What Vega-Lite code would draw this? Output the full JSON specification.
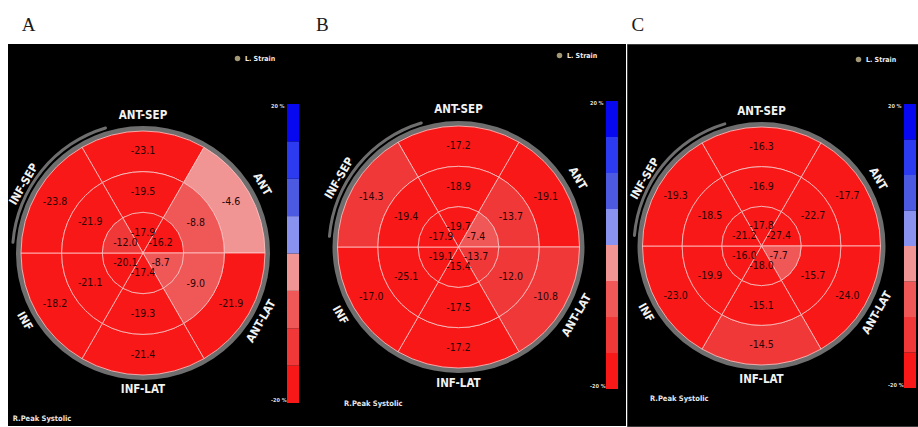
{
  "$schema": "https://vega.github.io/schema/vega-lite/v6.json",
  "background": "white",
  "padding": {"left": 7, "top": 15, "right": 0, "bottom": 0},
  "spacing": 0,
  "config": {
    "font": "Liberation Sans",
    "view": {"stroke": null},
    "concat": {"spacing": 0},
    "locale": {"number": {"decimal": ".", "thousands": ",", "grouping": [3], "currency": ["", ""], "minus": "-"}}
  },
  "datasets": {
    "strain": [
      {"panel": "A", "level": "Basal", "wall": "ANT-SEP", "value": -23.1},
      {"panel": "A", "level": "Basal", "wall": "ANT", "value": -4.6},
      {"panel": "A", "level": "Basal", "wall": "ANT-LAT", "value": -21.9},
      {"panel": "A", "level": "Basal", "wall": "INF-LAT", "value": -21.4},
      {"panel": "A", "level": "Basal", "wall": "INF", "value": -18.2},
      {"panel": "A", "level": "Basal", "wall": "INF-SEP", "value": -23.8},
      {"panel": "A", "level": "Mid", "wall": "ANT-SEP", "value": -19.5},
      {"panel": "A", "level": "Mid", "wall": "ANT", "value": -8.8},
      {"panel": "A", "level": "Mid", "wall": "ANT-LAT", "value": -9.0},
      {"panel": "A", "level": "Mid", "wall": "INF-LAT", "value": -19.3},
      {"panel": "A", "level": "Mid", "wall": "INF", "value": -21.1},
      {"panel": "A", "level": "Mid", "wall": "INF-SEP", "value": -21.9},
      {"panel": "A", "level": "Apical", "wall": "ANT-SEP", "value": -17.9},
      {"panel": "A", "level": "Apical", "wall": "ANT", "value": -16.2},
      {"panel": "A", "level": "Apical", "wall": "ANT-LAT", "value": -8.7},
      {"panel": "A", "level": "Apical", "wall": "INF-LAT", "value": -17.4},
      {"panel": "A", "level": "Apical", "wall": "INF", "value": -20.1},
      {"panel": "A", "level": "Apical", "wall": "INF-SEP", "value": -12.0},
      {"panel": "B", "level": "Basal", "wall": "ANT-SEP", "value": -17.2},
      {"panel": "B", "level": "Basal", "wall": "ANT", "value": -19.1},
      {"panel": "B", "level": "Basal", "wall": "ANT-LAT", "value": -10.8},
      {"panel": "B", "level": "Basal", "wall": "INF-LAT", "value": -17.2},
      {"panel": "B", "level": "Basal", "wall": "INF", "value": -17.0},
      {"panel": "B", "level": "Basal", "wall": "INF-SEP", "value": -14.3},
      {"panel": "B", "level": "Mid", "wall": "ANT-SEP", "value": -18.9},
      {"panel": "B", "level": "Mid", "wall": "ANT", "value": -13.7},
      {"panel": "B", "level": "Mid", "wall": "ANT-LAT", "value": -12.0},
      {"panel": "B", "level": "Mid", "wall": "INF-LAT", "value": -17.5},
      {"panel": "B", "level": "Mid", "wall": "INF", "value": -25.1},
      {"panel": "B", "level": "Mid", "wall": "INF-SEP", "value": -19.4},
      {"panel": "B", "level": "Apical", "wall": "ANT-SEP", "value": -19.7},
      {"panel": "B", "level": "Apical", "wall": "ANT", "value": -7.4},
      {"panel": "B", "level": "Apical", "wall": "ANT-LAT", "value": -13.7},
      {"panel": "B", "level": "Apical", "wall": "INF-LAT", "value": -15.4},
      {"panel": "B", "level": "Apical", "wall": "INF", "value": -19.1},
      {"panel": "B", "level": "Apical", "wall": "INF-SEP", "value": -17.9},
      {"panel": "C", "level": "Basal", "wall": "ANT-SEP", "value": -16.3},
      {"panel": "C", "level": "Basal", "wall": "ANT", "value": -17.7},
      {"panel": "C", "level": "Basal", "wall": "ANT-LAT", "value": -24.0},
      {"panel": "C", "level": "Basal", "wall": "INF-LAT", "value": -14.5},
      {"panel": "C", "level": "Basal", "wall": "INF", "value": -23.0},
      {"panel": "C", "level": "Basal", "wall": "INF-SEP", "value": -19.3},
      {"panel": "C", "level": "Mid", "wall": "ANT-SEP", "value": -16.9},
      {"panel": "C", "level": "Mid", "wall": "ANT", "value": -22.7},
      {"panel": "C", "level": "Mid", "wall": "ANT-LAT", "value": -15.7},
      {"panel": "C", "level": "Mid", "wall": "INF-LAT", "value": -15.1},
      {"panel": "C", "level": "Mid", "wall": "INF", "value": -19.9},
      {"panel": "C", "level": "Mid", "wall": "INF-SEP", "value": -18.5},
      {"panel": "C", "level": "Apical", "wall": "ANT-SEP", "value": -17.8},
      {"panel": "C", "level": "Apical", "wall": "ANT", "value": -27.4},
      {"panel": "C", "level": "Apical", "wall": "ANT-LAT", "value": -7.7},
      {"panel": "C", "level": "Apical", "wall": "INF-LAT", "value": -18.0},
      {"panel": "C", "level": "Apical", "wall": "INF", "value": -16.0},
      {"panel": "C", "level": "Apical", "wall": "INF-SEP", "value": -21.2}
    ]
  },
  "resolve": {
    "scale": {"color": "independent", "fill": "independent", "theta": "independent", "radius": "independent", "angle": "independent"},
    "legend": {"color": "independent", "fill": "independent"}
  },
  "hconcat": [
    {
      "title": {"text": "A", "anchor": "start", "font": "Liberation Serif", "fontSize": 19, "fontWeight": "normal", "color": "#1a1a1a", "dx": 14, "offset": 9},
      "resolve": {
        "scale": {"color": "independent", "fill": "independent", "theta": "independent", "radius": "independent", "angle": "independent"},
        "legend": {"color": "independent", "fill": "independent"}
      },
      "hconcat": [
        {
          "title": {"text": "R.Peak Systolic", "orient": "bottom", "anchor": "start", "offset": -11, "dx": 5, "font": "Liberation Sans Narrow, DejaVu Sans Condensed, sans-serif", "fontSize": 7.5, "fontWeight": "bold", "color": "#e6e6e6"},
          "width": 293,
          "height": 382,
          "view": {"fill": "black", "stroke": null},
          "data": {"name": "strain"},
          "transform": [{"filter": "datum.panel === 'A'"}],
          "layer": [
            {
              "data": {"values": [{"part": "rim"}]},
              "mark": {"type": "arc", "theta": 0, "theta2": 6.2832, "radius": 127, "radius2": 121.5, "color": "#6e6e6e", "xOffset": -11.5, "yOffset": 18},
              "encoding": {}
            },
            {
              "data": {"values": [{"part": "septal rim"}]},
              "mark": {"type": "arc", "theta": -1.5, "theta2": -0.28, "radius": 132, "radius2": 129, "cornerRadius": 1.5, "color": "#6e6e6e", "xOffset": -11.5, "yOffset": 18},
              "encoding": {}
            },
            {
              "mark": {"type": "arc", "stroke": "#ffc8c8", "strokeWidth": 0.8, "xOffset": -11.5, "yOffset": 18},
              "encoding": {
                "theta": {"field": "wall", "type": "nominal", "scale": {"type": "band", "domain": ["ANT-SEP", "ANT", "ANT-LAT", "INF-LAT", "INF", "INF-SEP"], "range": [-0.5236, 5.7596], "paddingInner": 0, "paddingOuter": 0}},
                "radius": {"field": "level", "type": "nominal", "scale": {"type": "band", "domain": ["Apical", "Mid", "Basal"], "range": [0, 122], "paddingInner": 0, "paddingOuter": 0}},
                "color": {
                  "field": "value", "type": "quantitative",
                  "scale": {"type": "quantize", "domain": [-20, 20], "nice": false, "zero": false, "range": ["#f81818", "#f03838", "#f05858", "#f09494", "#8a92f0", "#4c5ae2", "#2c3af0", "#0808f0"]},
                  "legend": {"type": "gradient", "orient": "none", "legendX": 279, "legendY": 60, "direction": "vertical", "title": null, "padding": 0, "values": [-20, -15, -10, -5, 0, 5, 10, 15, 20], "gradientLength": 299, "gradientThickness": 12, "gradientStrokeWidth": 0, "labelOffset": -28, "labelFontSize": 5.5, "labelFontWeight": "bold", "labelColor": "#dddddd", "labelFont": "Liberation Sans Narrow, DejaVu Sans Condensed, sans-serif", "labelOverlap": false, "labelExpr": "datum.value == 20 ? '20 %' : datum.value == -20 ? '-20 %' : ''"}
                }
              }
            },
            {
              "mark": {"type": "text", "font": "Liberation Sans Narrow, DejaVu Sans Condensed, sans-serif", "fontSize": 10.5, "color": "#2b0606", "xOffset": -11.5, "yOffset": 18},
              "encoding": {
                "theta": {"field": "wall", "type": "nominal", "scale": {"type": "band", "domain": ["ANT-SEP", "ANT", "ANT-LAT", "INF-LAT", "INF", "INF-SEP"], "range": [-0.5236, 5.7596], "paddingInner": 0, "paddingOuter": 0}},
                "radius": {"field": "level", "type": "nominal", "scale": {"type": "band", "domain": ["Apical", "Mid", "Basal"], "range": [0, 122], "paddingInner": 0, "paddingOuter": 0}},
                "text": {"field": "value", "type": "quantitative", "format": ".1f"}
              }
            },
            {
              "transform": [{"filter": "datum.level === 'Basal'"}],
              "mark": {"type": "text", "radius": 137, "font": "Liberation Sans Narrow, DejaVu Sans Condensed, sans-serif", "fontSize": 11.5, "fontWeight": "bold", "color": "#f2f2f2", "xOffset": -11.5, "yOffset": 18},
              "encoding": {
                "theta": {"field": "wall", "type": "nominal", "scale": {"type": "band", "domain": ["ANT-SEP", "ANT", "ANT-LAT", "INF-LAT", "INF", "INF-SEP"], "range": [-0.5236, 5.7596], "paddingInner": 0, "paddingOuter": 0}},
                "angle": {"field": "wall", "type": "nominal", "scale": {"type": "ordinal", "domain": ["ANT-SEP", "ANT", "ANT-LAT", "INF-LAT", "INF", "INF-SEP"], "range": [0, 60, -60, 0, 60, -60]}, "legend": null},
                "text": {"field": "wall", "type": "nominal"}
              }
            },
            {
              "data": {"values": [{"series": "L. Strain"}]},
              "mark": {"type": "point", "size": 0, "filled": true},
              "encoding": {
                "fill": {"field": "series", "type": "nominal", "scale": {"range": ["#e8d9a8"]},
                  "legend": {"orient": "none", "legendX": 226, "legendY": 11, "title": null, "padding": 0, "symbolType": "circle", "symbolSize": 30, "symbolStrokeWidth": 0, "labelColor": "#eeeeee", "labelFontSize": 7, "labelFontWeight": "bold", "labelFont": "Liberation Sans Narrow, DejaVu Sans Condensed, sans-serif"}}
              }
            }
          ]
        }
      ]
    },
    {
      "title": {"text": "B", "anchor": "start", "font": "Liberation Serif", "fontSize": 19, "fontWeight": "normal", "color": "#1a1a1a", "dx": 15, "offset": 9},
      "resolve": {
        "scale": {"color": "independent", "fill": "independent", "theta": "independent", "radius": "independent", "angle": "independent"},
        "legend": {"color": "independent", "fill": "independent"}
      },
      "hconcat": [
        {
          "title": {"text": "R.Peak Systolic", "orient": "bottom", "anchor": "start", "offset": -26, "dx": 43, "font": "Liberation Sans Narrow, DejaVu Sans Condensed, sans-serif", "fontSize": 7.5, "fontWeight": "bold", "color": "#e6e6e6"},
          "width": 325,
          "height": 382,
          "view": {"fill": "black", "stroke": null},
          "data": {"name": "strain"},
          "transform": [{"filter": "datum.panel === 'B'"}],
          "layer": [
            {
              "data": {"values": [{"part": "rim"}]},
              "mark": {"type": "arc", "theta": 0, "theta2": 6.2832, "radius": 126, "radius2": 120.5, "color": "#6e6e6e", "xOffset": -5, "yOffset": 12},
              "encoding": {}
            },
            {
              "data": {"values": [{"part": "septal rim"}]},
              "mark": {"type": "arc", "theta": -1.5, "theta2": -0.28, "radius": 131, "radius2": 128, "cornerRadius": 1.5, "color": "#6e6e6e", "xOffset": -5, "yOffset": 12},
              "encoding": {}
            },
            {
              "mark": {"type": "arc", "stroke": "#ffc8c8", "strokeWidth": 0.8, "xOffset": -5, "yOffset": 12},
              "encoding": {
                "theta": {"field": "wall", "type": "nominal", "scale": {"type": "band", "domain": ["ANT-SEP", "ANT", "ANT-LAT", "INF-LAT", "INF", "INF-SEP"], "range": [-0.5236, 5.7596], "paddingInner": 0, "paddingOuter": 0}},
                "radius": {"field": "level", "type": "nominal", "scale": {"type": "band", "domain": ["Apical", "Mid", "Basal"], "range": [0, 121], "paddingInner": 0, "paddingOuter": 0}},
                "color": {
                  "field": "value", "type": "quantitative",
                  "scale": {"type": "quantize", "domain": [-20, 20], "nice": false, "zero": false, "range": ["#f81818", "#f03838", "#f05858", "#f09494", "#8a92f0", "#4c5ae2", "#2c3af0", "#0808f0"]},
                  "legend": {"type": "gradient", "orient": "none", "legendX": 305, "legendY": 57, "direction": "vertical", "title": null, "padding": 0, "values": [-20, -15, -10, -5, 0, 5, 10, 15, 20], "gradientLength": 288, "gradientThickness": 12, "gradientStrokeWidth": 0, "labelOffset": -28, "labelFontSize": 5.5, "labelFontWeight": "bold", "labelColor": "#dddddd", "labelFont": "Liberation Sans Narrow, DejaVu Sans Condensed, sans-serif", "labelOverlap": false, "labelExpr": "datum.value == 20 ? '20 %' : datum.value == -20 ? '-20 %' : ''"}
                }
              }
            },
            {
              "mark": {"type": "text", "font": "Liberation Sans Narrow, DejaVu Sans Condensed, sans-serif", "fontSize": 10.5, "color": "#2b0606", "xOffset": -5, "yOffset": 12},
              "encoding": {
                "theta": {"field": "wall", "type": "nominal", "scale": {"type": "band", "domain": ["ANT-SEP", "ANT", "ANT-LAT", "INF-LAT", "INF", "INF-SEP"], "range": [-0.5236, 5.7596], "paddingInner": 0, "paddingOuter": 0}},
                "radius": {"field": "level", "type": "nominal", "scale": {"type": "band", "domain": ["Apical", "Mid", "Basal"], "range": [0, 121], "paddingInner": 0, "paddingOuter": 0}},
                "text": {"field": "value", "type": "quantitative", "format": ".1f"}
              }
            },
            {
              "transform": [{"filter": "datum.level === 'Basal'"}],
              "mark": {"type": "text", "radius": 137, "font": "Liberation Sans Narrow, DejaVu Sans Condensed, sans-serif", "fontSize": 11.5, "fontWeight": "bold", "color": "#f2f2f2", "xOffset": -5, "yOffset": 12},
              "encoding": {
                "theta": {"field": "wall", "type": "nominal", "scale": {"type": "band", "domain": ["ANT-SEP", "ANT", "ANT-LAT", "INF-LAT", "INF", "INF-SEP"], "range": [-0.5236, 5.7596], "paddingInner": 0, "paddingOuter": 0}},
                "angle": {"field": "wall", "type": "nominal", "scale": {"type": "ordinal", "domain": ["ANT-SEP", "ANT", "ANT-LAT", "INF-LAT", "INF", "INF-SEP"], "range": [0, 60, -60, 0, 60, -60]}, "legend": null},
                "text": {"field": "wall", "type": "nominal"}
              }
            },
            {
              "data": {"values": [{"series": "L. Strain"}]},
              "mark": {"type": "point", "size": 0, "filled": true},
              "encoding": {
                "fill": {"field": "series", "type": "nominal", "scale": {"range": ["#e8d9a8"]},
                  "legend": {"orient": "none", "legendX": 255, "legendY": 8, "title": null, "padding": 0, "symbolType": "circle", "symbolSize": 30, "symbolStrokeWidth": 0, "labelColor": "#eeeeee", "labelFontSize": 7, "labelFontWeight": "bold", "labelFont": "Liberation Sans Narrow, DejaVu Sans Condensed, sans-serif"}}
              }
            }
          ]
        }
      ]
    },
    {
      "title": {"text": "C", "anchor": "start", "font": "Liberation Serif", "fontSize": 19, "fontWeight": "normal", "color": "#1a1a1a", "dx": 5, "offset": 9},
      "resolve": {
        "scale": {"color": "independent", "fill": "independent", "theta": "independent", "radius": "independent", "angle": "independent"},
        "legend": {"color": "independent", "fill": "independent"}
      },
      "hconcat": [
        {
          "title": {"text": "R.Peak Systolic", "orient": "bottom", "anchor": "start", "offset": -31, "dx": 23, "font": "Liberation Sans Narrow, DejaVu Sans Condensed, sans-serif", "fontSize": 7.5, "fontWeight": "bold", "color": "#e6e6e6"},
          "width": 293,
          "height": 382,
          "view": {"fill": "black", "stroke": "#3a3a3a"},
          "data": {"name": "strain"},
          "transform": [{"filter": "datum.panel === 'C'"}],
          "layer": [
            {
              "data": {"values": [{"part": "rim"}]},
              "mark": {"type": "arc", "theta": 0, "theta2": 6.2832, "radius": 124, "radius2": 118.5, "color": "#6e6e6e", "xOffset": -12, "yOffset": 11},
              "encoding": {}
            },
            {
              "data": {"values": [{"part": "septal rim"}]},
              "mark": {"type": "arc", "theta": -1.5, "theta2": -0.28, "radius": 129, "radius2": 126, "cornerRadius": 1.5, "color": "#6e6e6e", "xOffset": -12, "yOffset": 11},
              "encoding": {}
            },
            {
              "mark": {"type": "arc", "stroke": "#ffc8c8", "strokeWidth": 0.8, "xOffset": -12, "yOffset": 11},
              "encoding": {
                "theta": {"field": "wall", "type": "nominal", "scale": {"type": "band", "domain": ["ANT-SEP", "ANT", "ANT-LAT", "INF-LAT", "INF", "INF-SEP"], "range": [-0.5236, 5.7596], "paddingInner": 0, "paddingOuter": 0}},
                "radius": {"field": "level", "type": "nominal", "scale": {"type": "band", "domain": ["Apical", "Mid", "Basal"], "range": [0, 119], "paddingInner": 0, "paddingOuter": 0}},
                "color": {
                  "field": "value", "type": "quantitative",
                  "scale": {"type": "quantize", "domain": [-20, 20], "nice": false, "zero": false, "range": ["#f81818", "#f03838", "#f05858", "#f09494", "#8a92f0", "#4c5ae2", "#2c3af0", "#0808f0"]},
                  "legend": {"type": "gradient", "orient": "none", "legendX": 277, "legendY": 60, "direction": "vertical", "title": null, "padding": 0, "values": [-20, -15, -10, -5, 0, 5, 10, 15, 20], "gradientLength": 284, "gradientThickness": 12, "gradientStrokeWidth": 0, "labelOffset": -28, "labelFontSize": 5.5, "labelFontWeight": "bold", "labelColor": "#dddddd", "labelFont": "Liberation Sans Narrow, DejaVu Sans Condensed, sans-serif", "labelOverlap": false, "labelExpr": "datum.value == 20 ? '20 %' : datum.value == -20 ? '-20 %' : ''"}
                }
              }
            },
            {
              "mark": {"type": "text", "font": "Liberation Sans Narrow, DejaVu Sans Condensed, sans-serif", "fontSize": 10.5, "color": "#2b0606", "xOffset": -12, "yOffset": 11},
              "encoding": {
                "theta": {"field": "wall", "type": "nominal", "scale": {"type": "band", "domain": ["ANT-SEP", "ANT", "ANT-LAT", "INF-LAT", "INF", "INF-SEP"], "range": [-0.5236, 5.7596], "paddingInner": 0, "paddingOuter": 0}},
                "radius": {"field": "level", "type": "nominal", "scale": {"type": "band", "domain": ["Apical", "Mid", "Basal"], "range": [0, 119], "paddingInner": 0, "paddingOuter": 0}},
                "text": {"field": "value", "type": "quantitative", "format": ".1f"}
              }
            },
            {
              "transform": [{"filter": "datum.level === 'Basal'"}],
              "mark": {"type": "text", "radius": 134, "font": "Liberation Sans Narrow, DejaVu Sans Condensed, sans-serif", "fontSize": 11.5, "fontWeight": "bold", "color": "#f2f2f2", "xOffset": -12, "yOffset": 11},
              "encoding": {
                "theta": {"field": "wall", "type": "nominal", "scale": {"type": "band", "domain": ["ANT-SEP", "ANT", "ANT-LAT", "INF-LAT", "INF", "INF-SEP"], "range": [-0.5236, 5.7596], "paddingInner": 0, "paddingOuter": 0}},
                "angle": {"field": "wall", "type": "nominal", "scale": {"type": "ordinal", "domain": ["ANT-SEP", "ANT", "ANT-LAT", "INF-LAT", "INF", "INF-SEP"], "range": [0, 60, -60, 0, 60, -60]}, "legend": null},
                "text": {"field": "wall", "type": "nominal"}
              }
            },
            {
              "data": {"values": [{"series": "L. Strain"}]},
              "mark": {"type": "point", "size": 0, "filled": true},
              "encoding": {
                "fill": {"field": "series", "type": "nominal", "scale": {"range": ["#e8d9a8"]},
                  "legend": {"orient": "none", "legendX": 228, "legendY": 12, "title": null, "padding": 0, "symbolType": "circle", "symbolSize": 30, "symbolStrokeWidth": 0, "labelColor": "#eeeeee", "labelFontSize": 7, "labelFontWeight": "bold", "labelFont": "Liberation Sans Narrow, DejaVu Sans Condensed, sans-serif"}}
              }
            }
          ]
        }
      ]
    }
  ]
}
